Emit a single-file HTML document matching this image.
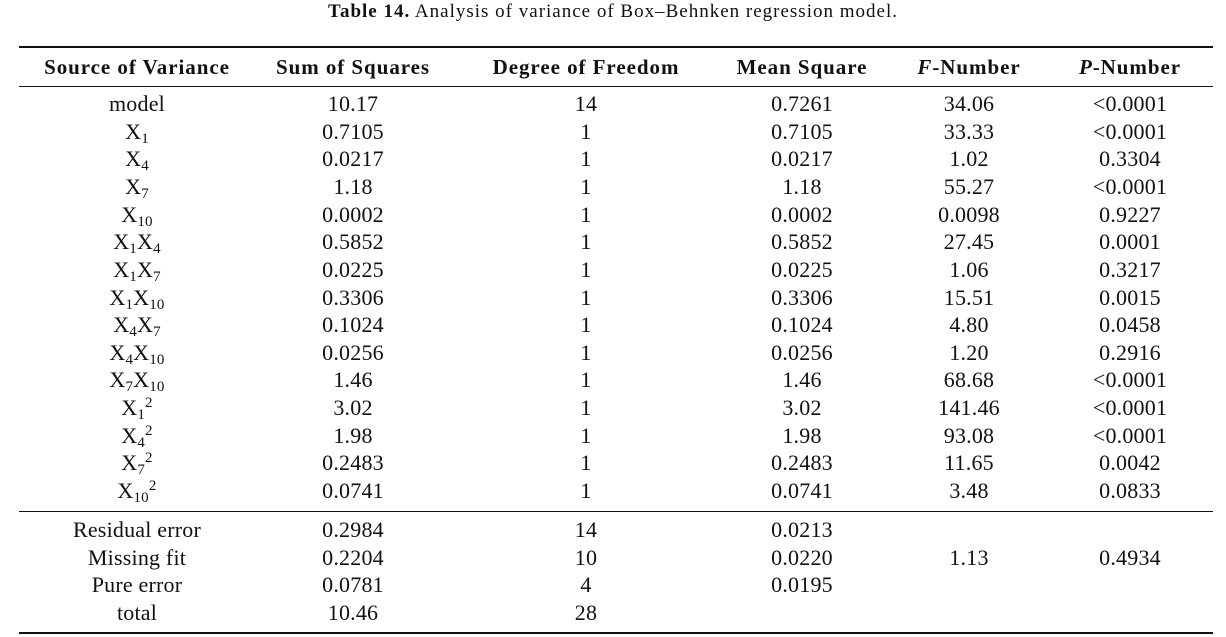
<!DOCTYPE html>
<html><head><meta charset="utf-8"><style>
body{margin:0;width:1226px;height:637px;background:#fff;font-family:"Liberation Serif",serif;color:#111;position:relative;overflow:hidden}
.t{position:absolute;top:1px;left:0;width:1226px;text-align:center;font-size:19px;letter-spacing:1.0px}
.hr{position:absolute;left:19px;width:1194px;background:#111}
.r{position:absolute;left:0;width:1226px;height:24px;line-height:24px;font-size:22px;letter-spacing:0.2px}
.r span{position:absolute;width:240px;text-align:center;white-space:nowrap}
.c1{left:17px}.c2{left:233px}.c3{left:466px}.c4{left:682px}.c5{left:849px}.c6{left:1010px}
.h{font-weight:bold;font-size:21px;letter-spacing:0.95px}
sub{font-size:15px;vertical-align:-4px;line-height:0}
sup{font-size:15px;vertical-align:8px;line-height:0}
</style></head><body>
<div class="t"><b>Table 14.</b> Analysis of variance of Box–Behnken regression model.</div>
<div class="hr" style="top:46px;height:2px"></div>
<div class="hr" style="top:86px;height:1px"></div>
<div class="hr" style="top:511px;height:1px"></div>
<div class="hr" style="top:632px;height:2px"></div>
<div class="r h" style="top:55px"><span class="c1">Source of Variance</span><span class="c2">Sum of Squares</span><span class="c3">Degree of Freedom</span><span class="c4">Mean Square</span><span class="c5"><i>F</i>-Number</span><span class="c6"><i>P</i>-Number</span></div>
<div class="r" style="top:92px"><span class="c1">model</span><span class="c2">10.17</span><span class="c3">14</span><span class="c4">0.7261</span><span class="c5">34.06</span><span class="c6">&lt;0.0001</span></div>
<div class="r" style="top:119.6px"><span class="c1">X<sub>1</sub></span><span class="c2">0.7105</span><span class="c3">1</span><span class="c4">0.7105</span><span class="c5">33.33</span><span class="c6">&lt;0.0001</span></div>
<div class="r" style="top:147.3px"><span class="c1">X<sub>4</sub></span><span class="c2">0.0217</span><span class="c3">1</span><span class="c4">0.0217</span><span class="c5">1.02</span><span class="c6">0.3304</span></div>
<div class="r" style="top:174.9px"><span class="c1">X<sub>7</sub></span><span class="c2">1.18</span><span class="c3">1</span><span class="c4">1.18</span><span class="c5">55.27</span><span class="c6">&lt;0.0001</span></div>
<div class="r" style="top:202.6px"><span class="c1">X<sub>10</sub></span><span class="c2">0.0002</span><span class="c3">1</span><span class="c4">0.0002</span><span class="c5">0.0098</span><span class="c6">0.9227</span></div>
<div class="r" style="top:230.2px"><span class="c1">X<sub>1</sub>X<sub>4</sub></span><span class="c2">0.5852</span><span class="c3">1</span><span class="c4">0.5852</span><span class="c5">27.45</span><span class="c6">0.0001</span></div>
<div class="r" style="top:257.8px"><span class="c1">X<sub>1</sub>X<sub>7</sub></span><span class="c2">0.0225</span><span class="c3">1</span><span class="c4">0.0225</span><span class="c5">1.06</span><span class="c6">0.3217</span></div>
<div class="r" style="top:285.5px"><span class="c1">X<sub>1</sub>X<sub>10</sub></span><span class="c2">0.3306</span><span class="c3">1</span><span class="c4">0.3306</span><span class="c5">15.51</span><span class="c6">0.0015</span></div>
<div class="r" style="top:313.1px"><span class="c1">X<sub>4</sub>X<sub>7</sub></span><span class="c2">0.1024</span><span class="c3">1</span><span class="c4">0.1024</span><span class="c5">4.80</span><span class="c6">0.0458</span></div>
<div class="r" style="top:340.8px"><span class="c1">X<sub>4</sub>X<sub>10</sub></span><span class="c2">0.0256</span><span class="c3">1</span><span class="c4">0.0256</span><span class="c5">1.20</span><span class="c6">0.2916</span></div>
<div class="r" style="top:368.4px"><span class="c1">X<sub>7</sub>X<sub>10</sub></span><span class="c2">1.46</span><span class="c3">1</span><span class="c4">1.46</span><span class="c5">68.68</span><span class="c6">&lt;0.0001</span></div>
<div class="r" style="top:396px"><span class="c1">X<sub>1</sub><sup>2</sup></span><span class="c2">3.02</span><span class="c3">1</span><span class="c4">3.02</span><span class="c5">141.46</span><span class="c6">&lt;0.0001</span></div>
<div class="r" style="top:423.7px"><span class="c1">X<sub>4</sub><sup>2</sup></span><span class="c2">1.98</span><span class="c3">1</span><span class="c4">1.98</span><span class="c5">93.08</span><span class="c6">&lt;0.0001</span></div>
<div class="r" style="top:451.3px"><span class="c1">X<sub>7</sub><sup>2</sup></span><span class="c2">0.2483</span><span class="c3">1</span><span class="c4">0.2483</span><span class="c5">11.65</span><span class="c6">0.0042</span></div>
<div class="r" style="top:479px"><span class="c1">X<sub>10</sub><sup>2</sup></span><span class="c2">0.0741</span><span class="c3">1</span><span class="c4">0.0741</span><span class="c5">3.48</span><span class="c6">0.0833</span></div>
<div class="r" style="top:518px"><span class="c1">Residual error</span><span class="c2">0.2984</span><span class="c3">14</span><span class="c4">0.0213</span></div>
<div class="r" style="top:546px"><span class="c1">Missing fit</span><span class="c2">0.2204</span><span class="c3">10</span><span class="c4">0.0220</span><span class="c5">1.13</span><span class="c6">0.4934</span></div>
<div class="r" style="top:573px"><span class="c1">Pure error</span><span class="c2">0.0781</span><span class="c3">4</span><span class="c4">0.0195</span></div>
<div class="r" style="top:601px"><span class="c1">total</span><span class="c2">10.46</span><span class="c3">28</span></div>
</body></html>
